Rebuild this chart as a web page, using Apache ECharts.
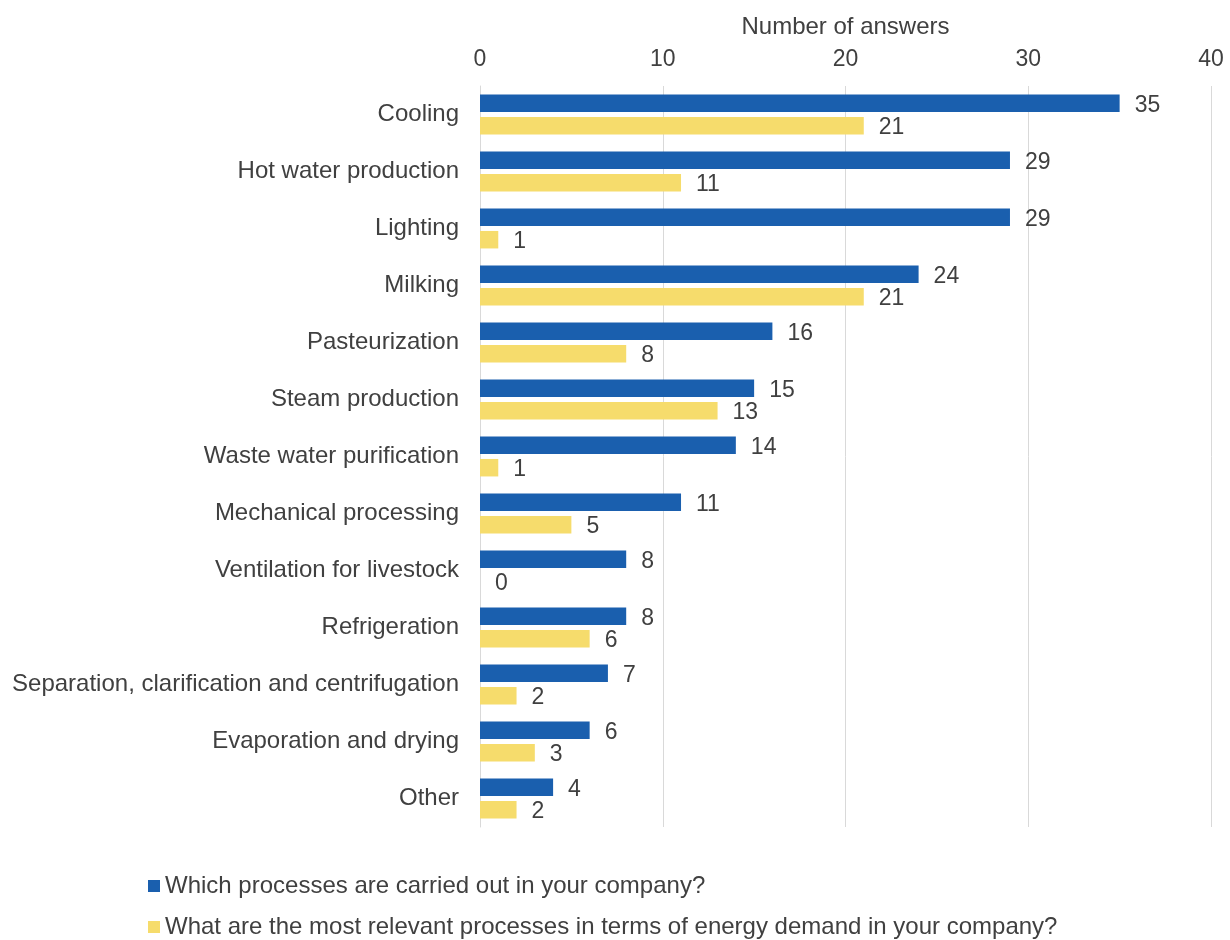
<!DOCTYPE html>
<html>
<head>
<meta charset="utf-8">
<script src="https://cdn.jsdelivr.net/npm/echarts@6/dist/echarts.min.js"></script>
<style>
  html, body { margin: 0; padding: 0; background: #fff; }
  #chart { width: 1230px; height: 940px; }
</style>
</head>
<body>
<div id="chart"></div>
<script>
// Processes, listed top to bottom
const categories = [
  'Cooling',
  'Hot water production',
  'Lighting',
  'Milking',
  'Pasteurization',
  'Steam production',
  'Waste water purification',
  'Mechanical processing',
  'Ventilation for livestock',
  'Refrigeration',
  'Separation, clarification and centrifugation',
  'Evaporation and drying',
  'Other'
];
const carriedOut = [35, 29, 29, 24, 16, 15, 14, 11, 8, 8, 7, 6, 4];
const energyRelevant = [21, 11, 1, 21, 8, 13, 1, 5, 0, 6, 2, 3, 2];
const seriesNames = [
  'Which processes are carried out in your company?',
  'What are the most relevant processes in terms of energy demand in your company?'
];
const xTicks = [0, 10, 20, 30, 40];

const FONT = 'Liberation Sans, Arial, sans-serif';
const TXT = '#404040';

const chart = echarts.init(document.getElementById('chart'));
chart.setOption({
  animation: false,
  backgroundColor: '#ffffff',
  textStyle: { fontFamily: FONT },
  grid: { left: 480, right: 19, top: 86, bottom: 113, outerBoundsMode: 'none' },
  legend: {
    orient: 'vertical',
    left: 148,
    top: 874,
    height: 66,
    padding: 0,
    itemWidth: 12,
    itemHeight: 12,
    itemGap: 17,
    icon: 'rect',
    textStyle: { fontFamily: FONT, fontSize: 24, color: TXT },
    data: seriesNames
  },
  xAxis: {
    type: 'value',
    position: 'top',
    min: xTicks[0],
    max: xTicks[xTicks.length - 1],
    interval: 10,
    name: 'Number of answers',
    nameLocation: 'middle',
    nameGap: 47,
    nameTextStyle: { fontFamily: FONT, fontSize: 24, color: TXT },
    axisLine: { show: false },
    axisTick: { show: false },
    axisLabel: { fontFamily: FONT, fontSize: 23, color: TXT, margin: 15 },
    splitLine: { lineStyle: { color: '#d9d9d9', width: 1 } }
  },
  yAxis: {
    type: 'category',
    inverse: true,
    data: categories,
    axisLine: { show: true, lineStyle: { color: '#d9d9d9' } },
    axisTick: { show: false },
    axisLabel: { fontFamily: FONT, fontSize: 24, color: TXT, margin: 21 }
  },
  series: [
    {
      name: seriesNames[0],
      type: 'bar',
      data: carriedOut,
      barCategoryGap: '30%',
      barGap: '28%',
      itemStyle: { color: '#1a5fae' },
      label: {
        show: true, position: 'right', distance: 15, offset: [0, 2],
        fontFamily: FONT, fontSize: 23, color: TXT
      }
    },
    {
      name: seriesNames[1],
      type: 'bar',
      data: energyRelevant,
      barCategoryGap: '30%',
      barGap: '28%',
      itemStyle: { color: '#f6dc6c' },
      label: {
        show: true, position: 'right', distance: 15, offset: [0, 2],
        fontFamily: FONT, fontSize: 23, color: TXT
      }
    }
  ]
});
</script>
</body>
</html>
